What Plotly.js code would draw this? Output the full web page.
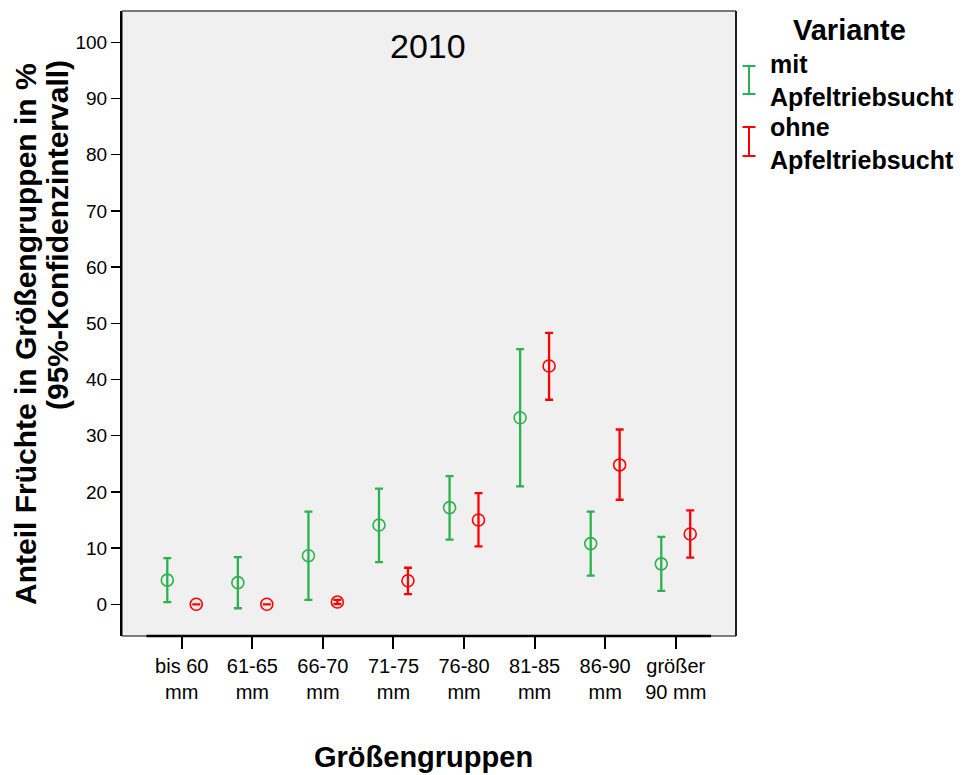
<!DOCTYPE html>
<html>
<head>
<meta charset="utf-8">
<script src="https://cdn.plot.ly/plotly-3.0.1.min.js"></script>
<style>html,body{margin:0;padding:0;background:#fff;}#chart{width:975px;height:775px;}</style>
</head>
<body>
<div id="chart"></div>
<script>
// ---- data ----
const categories = ['bis 60 mm','61-65 mm','66-70 mm','71-75 mm','76-80 mm','81-85 mm','86-90 mm','größer 90 mm'];
const tickLabels = ['bis 60<br>mm','61-65<br>mm','66-70<br>mm','71-75<br>mm','76-80<br>mm','81-85<br>mm','86-90<br>mm','größer<br>90 mm'];
const seriesNames = ['mit<br>Apfeltriebsucht','ohne<br>Apfeltriebsucht'];
const mitMean  = [4.3, 3.85, 8.65, 14.1, 17.2, 33.2, 10.8, 7.2];
const mitLower = [0.4, -0.7, 0.8, 7.5, 11.5, 21.0, 5.1, 2.4];
const mitUpper = [8.2, 8.4, 16.5, 20.6, 22.8, 45.4, 16.5, 12.0];
const ohneMean  = [0, 0, 0.4, 4.2, 15.0, 42.4, 24.8, 12.5];
const ohneLower = [0, 0, 0.05, 1.8, 10.3, 36.4, 18.6, 8.3];
const ohneUpper = [0, 0, 0.8, 6.5, 19.8, 48.3, 31.1, 16.7];
const yTicks = [0,10,20,30,40,50,60,70,80,90,100];

// ---- styles ----
const GREEN = '#2bb24c', RED = '#ff0000';
const FONT = 'Liberation Sans, Arial, sans-serif';
const W = 975, H = 775, M = {l:122, r:239, t:11, b:139};
const PW = W - M.l - M.r, PH = H - M.t - M.b;
const px = x => (x - M.l) / PW;
const py = y => (H - M.b - y) / PH;
const OFFSET = 0.205;

function trace(mean, lo, hi, color, off, name) {
  return {
    type: 'scatter', mode: 'markers', name: name, showlegend: false,
    x: categories.map((c, i) => i + off),
    y: mean,
    marker: {symbol: 'circle-open', size: 12, color: color, line: {color: color, width: 1.6}},
    error_y: {type: 'data', symmetric: false,
      array: mean.map((m, i) => hi[i] - m),
      arrayminus: mean.map((m, i) => m - lo[i]),
      color: color, thickness: 2.3, width: 4},
    hoverinfo: 'skip'
  };
}

const data = [
  trace(mitMean, mitLower, mitUpper, GREEN, -OFFSET, seriesNames[0]),
  trace(ohneMean, ohneLower, ohneUpper, RED, OFFSET, seriesNames[1])
];

const shapes = [
  {type:'rect', xref:'paper', yref:'paper', x0:0, x1:1, y0:0, y1:1, line:{color:'#000', width:1}, layer:'above'},
  {type:'line', xref:'paper', yref:'paper', x0:0, x1:1, y0:1, y1:1, line:{color:'#777', width:1.5}, layer:'above'},
  {type:'line', xref:'paper', yref:'paper', x0:1, x1:1, y0:0, y1:1, line:{color:'#000', width:1.5}, layer:'above'},
  {type:'line', xref:'x', yref:'paper', x0:-0.5, x1:categories.length - 0.5, y0:0, y1:0, line:{color:'#000', width:2.5}, layer:'above'}
];
// manual legend symbols ("I" error-bar glyphs)
function legendI(cx, top, bot, color) {
  const hw = 6.5;
  shapes.push({type:'line', xref:'paper', yref:'paper', x0:px(cx), x1:px(cx), y0:py(top), y1:py(bot), line:{color:color, width:2}});
  shapes.push({type:'line', xref:'paper', yref:'paper', x0:px(cx-hw), x1:px(cx+hw), y0:py(top), y1:py(top), line:{color:color, width:2}});
  shapes.push({type:'line', xref:'paper', yref:'paper', x0:px(cx-hw), x1:px(cx+hw), y0:py(bot), y1:py(bot), line:{color:color, width:2}});
}
legendI(749, 66, 94, GREEN);
legendI(749, 127, 156, RED);

const annotations = [
  {text:'2010', xref:'paper', yref:'paper', x:px(428), y:py(46), xanchor:'center', yanchor:'middle', showarrow:false,
   font:{family:FONT, size:34, color:'#000'}},
  {text:'<b>Variante</b>', xref:'paper', yref:'paper', x:px(849), y:py(30), xanchor:'center', yanchor:'middle', showarrow:false,
   font:{family:FONT, size:29, color:'#000'}},
  {text:'<b>Anteil Früchte in Größengruppen in %</b>', xref:'paper', yref:'paper', x:px(26), y:py(334), xanchor:'center', yanchor:'middle',
   textangle:-90, showarrow:false, font:{family:FONT, size:30, color:'#000'}},
  {text:'<b>(95%-Konfidenzintervall)</b>', xref:'paper', yref:'paper', x:px(57), y:py(58), xanchor:'center', yanchor:'top',
   textangle:-90, showarrow:false, font:{family:FONT, size:30, color:'#000'}},
  {text:'<b>Größengruppen</b>', xref:'paper', yref:'paper', x:px(423), y:py(757), xanchor:'center', yanchor:'middle', showarrow:false,
   font:{family:FONT, size:29, color:'#000'}}
];
// legend item texts
const legendCenters = [81, 143];
seriesNames.forEach((n, i) => annotations.push({text:'<b>' + n + '</b>', xref:'paper', yref:'paper', x:px(769), y:py(legendCenters[i]),
  xanchor:'left', yanchor:'middle', align:'left', showarrow:false, borderpad:0, font:{family:FONT, size:25, color:'#000'}}));

const layout = {
  width: W, height: H, margin: M,
  paper_bgcolor: '#ffffff', plot_bgcolor: '#f0f0f0',
  showlegend: false,
  xaxis: {
    range: [-0.847, 7.854], tickmode: 'array', tickvals: categories.map((c, i) => i), ticktext: tickLabels,
    ticks: 'outside', ticklen: 12, tickwidth: 2, tickcolor: '#000',
    showgrid: false, zeroline: false, showline: false,
    tickfont: {family: FONT, size: 20, color: '#000'}
  },
  yaxis: {
    range: [-5.64, 105.57], tickmode: 'array', tickvals: yTicks,
    ticks: 'outside', ticklen: 9, tickwidth: 1.5, tickcolor: '#000',
    showgrid: false, zeroline: false, showline: true, linecolor: '#000', linewidth: 2,
    tickfont: {family: FONT, size: 19, color: '#000'}
  },
  shapes: shapes,
  annotations: annotations
};

Plotly.newPlot('chart', data, layout, {displayModeBar: false, staticPlot: true});
</script>
</body>
</html>
